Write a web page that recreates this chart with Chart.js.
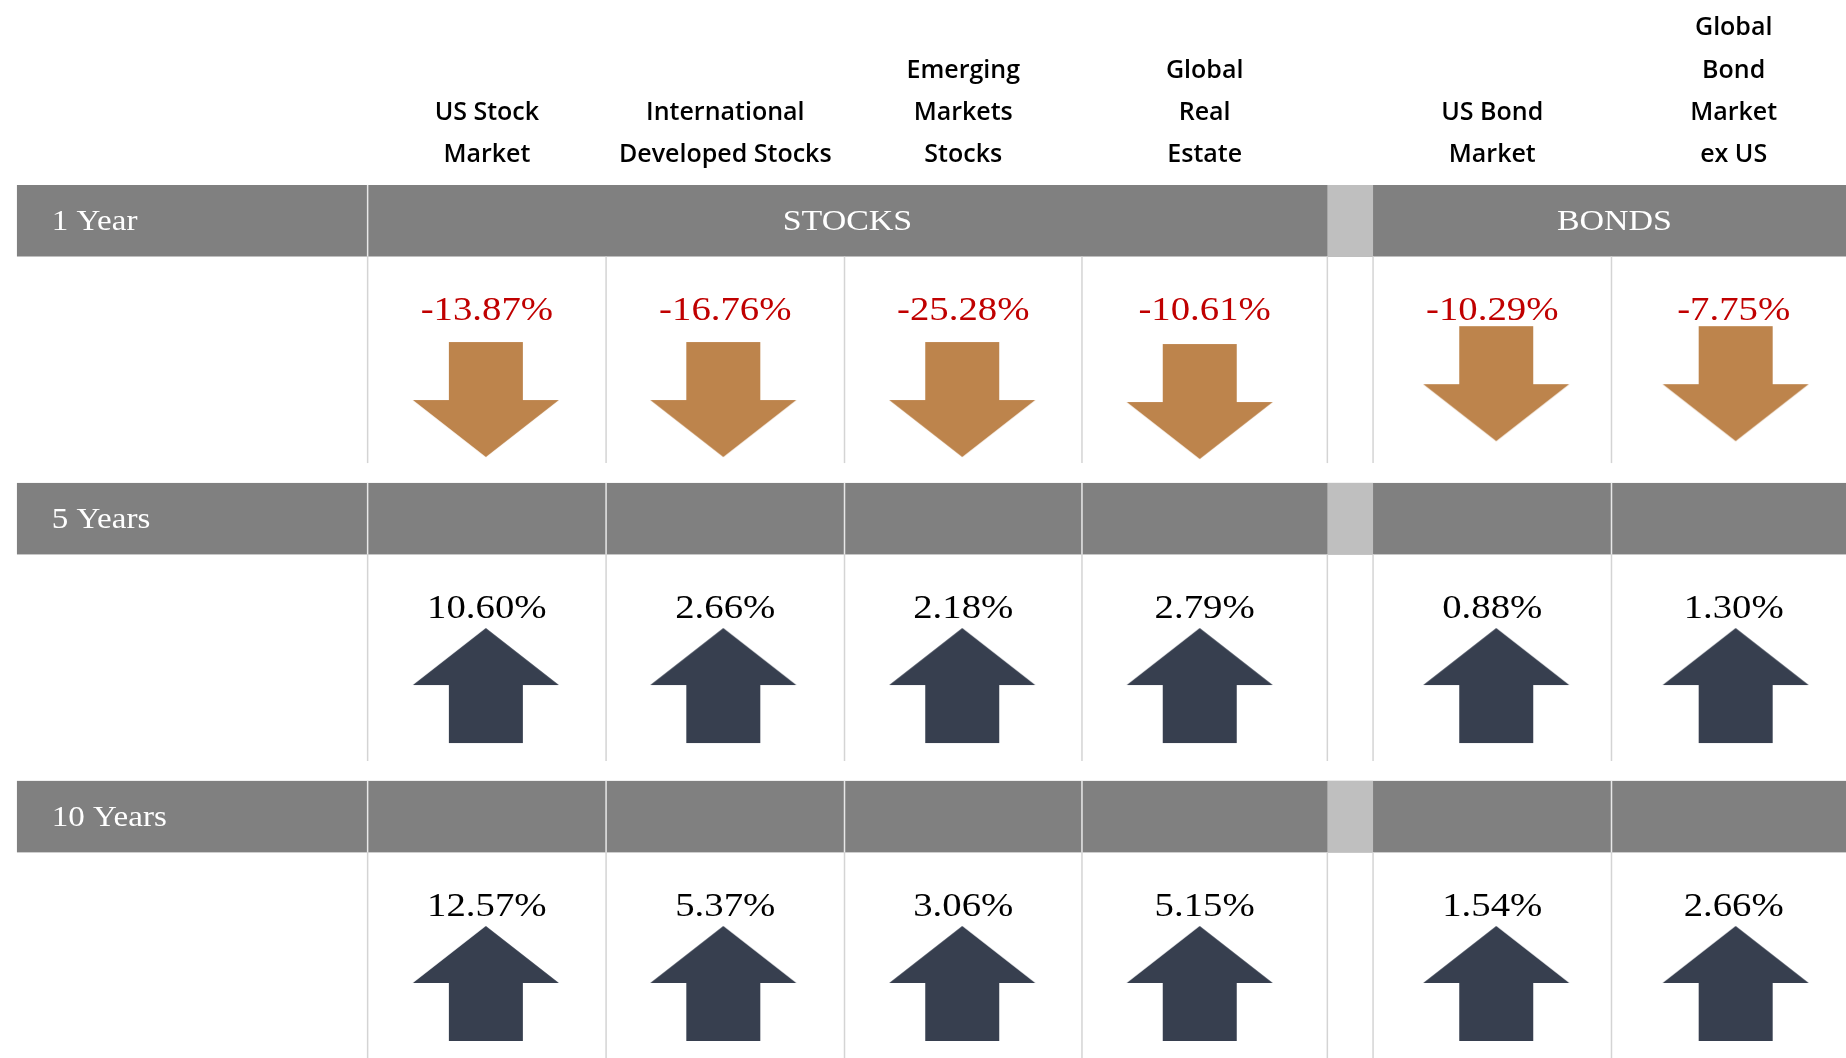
<!DOCTYPE html>
<html lang="en">
<head>
<meta charset="UTF-8" />
<title>Asset Class Returns</title>
<script src="https://cdn.jsdelivr.net/npm/chart.js@4.4.3/dist/chart.umd.min.js"></script>
<style>
  body { margin: 0; background: #fff; }
  .container { width: 1846px; height: 1058px; }
</style>
</head>
<body>
<div class="container"><canvas id="returnsChart"></canvas></div>
<script>
// column headers, one entry per line
const assetClasses = [
  ["US Stock", "Market"],
  ["International", "Developed Stocks"],
  ["Emerging", "Markets", "Stocks"],
  ["Global", "Real", "Estate"],
  ["US Bond", "Market"],
  ["Global", "Bond", "Market", "ex US"],
];
const groupNames = ["STOCKS", "BONDS"];
const periods = ["1 Year", "5 Years", "10 Years"];

// annualized returns in %
const oneYear = [-13.87, -16.76, -25.28, -10.61, -10.29, -7.75];
const fiveYears = [10.6, 2.66, 2.18, 2.79, 0.88, 1.3];
const tenYears = [12.57, 5.37, 3.06, 5.15, 1.54, 2.66];
const returns = [oneYear, fiveYears, tenYears];

// layout, px
const W = 1846, H = 1058;
const headerH = 185;
const tableLeft = 11;
const colEdges = [[364, 604, 844, 1083, 1330], [1376, 1616, 1862]];
const rowPitch = 300, bandH = 72, ruleEnd = 280;
const labelBase = 45.5, valueBase = 136;
const upMid = 204, downMid = 216;
const downShift = [0, 0, 0, 2, -16, -16];
const arrowShift = [-1, -2, -1, -5, 4, 2];

const colCenters = [];
colEdges.forEach((e) => {
  for (let i = 0; i < e.length - 1; i++) colCenters.push((e[i] + e[i + 1]) / 2);
});

function arrowImage(dir, color) {
  const c = document.createElement("canvas");
  c.width = 148;
  c.height = 117;
  const g = c.getContext("2d");
  const cx = 74, top = 1, bot = 116, half = 73, shaft = 37, neck = 58;
  g.fillStyle = color;
  g.beginPath();
  if (dir < 0) {
    g.moveTo(cx - shaft, top);
    g.lineTo(cx + shaft, top);
    g.lineTo(cx + shaft, top + neck);
    g.lineTo(cx + half, top + neck);
    g.lineTo(cx, bot);
    g.lineTo(cx - half, top + neck);
    g.lineTo(cx - shaft, top + neck);
  } else {
    g.moveTo(cx, top);
    g.lineTo(cx + half, bot - neck);
    g.lineTo(cx + shaft, bot - neck);
    g.lineTo(cx + shaft, bot);
    g.lineTo(cx - shaft, bot);
    g.lineTo(cx - shaft, bot - neck);
    g.lineTo(cx - half, bot - neck);
  }
  g.closePath();
  g.fill();
  return c;
}
const downArrow = arrowImage(-1, "#BD844C");
const upArrow = arrowImage(1, "#373F4F");

// serif text, widened horizontally
function drawText(ctx, text, x, y, font, sx, align, color) {
  ctx.save();
  ctx.translate(x, y);
  ctx.scale(sx, 1);
  ctx.font = font;
  ctx.textAlign = align;
  ctx.textBaseline = "alphabetic";
  ctx.fillStyle = color;
  ctx.fillText(text, 0, 0);
  ctx.restore();
}

const tablePlugin = {
  id: "returnsTable",
  beforeDraw(chart) {
    const { ctx, scales: { x, y } } = chart;
    const gapL = colEdges[0][colEdges[0].length - 1];
    const gapR = colEdges[1][0];
    const rules = [...colEdges[0], ...colEdges[1].slice(0, -1)];

    ctx.save();
    ctx.fillStyle = "#fff";
    ctx.fillRect(0, 0, chart.width, chart.height);

    periods.forEach((label, r) => {
      const top = y.getPixelForValue(r * rowPitch);
      const bot = y.getPixelForValue(r * rowPitch + bandH);
      ctx.fillStyle = "#808080";
      ctx.fillRect(x.getPixelForValue(tableLeft), top, chart.width, bot - top);
      ctx.fillStyle = "#BFBFBF";
      ctx.fillRect(x.getPixelForValue(gapL), top, x.getPixelForValue(gapR) - x.getPixelForValue(gapL), bot - top);

      // dividers inside the band
      const bandRules = r === 0 ? [colEdges[0][0]] : rules.filter((e) => e !== gapL && e !== gapR);
      ctx.strokeStyle = "#E8E8E8";
      ctx.lineWidth = 1.5;
      bandRules.forEach((e) => {
        ctx.beginPath();
        ctx.moveTo(x.getPixelForValue(e), top);
        ctx.lineTo(x.getPixelForValue(e), bot);
        ctx.stroke();
      });

      // dividers below the band
      const end = r === periods.length - 1 ? chart.height : y.getPixelForValue(r * rowPitch + ruleEnd);
      ctx.strokeStyle = "#D4D4D4";
      rules.forEach((e) => {
        ctx.beginPath();
        ctx.moveTo(x.getPixelForValue(e), bot);
        ctx.lineTo(x.getPixelForValue(e), end);
        ctx.stroke();
      });

      drawText(ctx, label, x.getPixelForValue(46), y.getPixelForValue(r * rowPitch + labelBase),
        "29px 'Liberation Serif'", 1.14, "left", "#fff");
    });

    groupNames.forEach((name, k) => {
      const e = colEdges[k];
      const mid = (e[0] + e[e.length - 1]) / 2;
      drawText(ctx, name, x.getPixelForValue(mid), y.getPixelForValue(labelBase),
        "29px 'Liberation Serif'", 1.17, "center", "#fff");
    });
    ctx.restore();
  },
  afterDatasetsDraw(chart) {
    const { ctx, scales: { x, y } } = chart;
    chart.data.datasets.forEach((ds, r) => {
      ds.data.forEach((d, i) => {
        const v = d.v;
        drawText(ctx, v.toFixed(2) + "%", x.getPixelForValue(colCenters[i]),
          y.getPixelForValue(r * rowPitch + valueBase),
          "34px 'Liberation Serif'", 1.14, "center", v < 0 ? "#C00000" : "#000");
      });
    });
  },
};

const datasets = returns.map((vals, r) => ({
  label: periods[r],
  data: vals.map((v, i) => ({
    x: colCenters[i] + arrowShift[i],
    y: r * rowPitch + (v < 0 ? downMid + downShift[i] : upMid),
    v: v,
  })),
  pointStyle: vals.map((v) => (v < 0 ? downArrow : upArrow)),
  pointRadius: 5,
}));

new Chart(document.getElementById("returnsChart"), {
  type: "scatter",
  data: { datasets: datasets },
  options: {
    responsive: true,
    maintainAspectRatio: false,
    animation: false,
    events: [],
    layout: { padding: 0 },
    plugins: { legend: { display: false }, tooltip: { enabled: false } },
    scales: {
      x: {
        type: "linear",
        position: "top",
        min: 0,
        max: W,
        bounds: "data",
        grid: { display: false, drawTicks: false },
        border: { display: false },
        afterBuildTicks: (scale) => {
          scale.ticks = colCenters.map((value) => ({ value }));
        },
        afterFit: (scale) => {
          scale.height = headerH;
        },
        ticks: {
          autoSkip: false,
          maxRotation: 0,
          minRotation: 0,
          padding: 9,
          color: "#000",
          font: { family: "'Open Sans'", size: 25, weight: 600, lineHeight: 1.69 },
          callback: (value, index) => assetClasses[index],
        },
      },
      y: {
        type: "linear",
        display: false,
        reverse: true,
        min: 0,
        max: H - headerH,
        bounds: "data",
      },
    },
  },
  plugins: [tablePlugin],
});
</script>
</body>
</html>
